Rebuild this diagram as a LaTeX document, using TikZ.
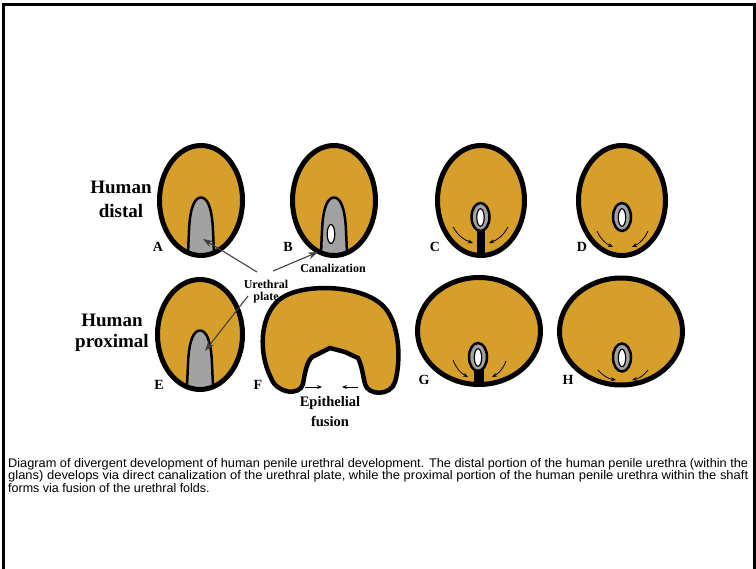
\documentclass[tikz,border=0pt]{standalone}
\usepackage{fontspec}
\setmainfont{Liberation Serif}
\newfontfamily\capfont{Liberation Sans}
\usetikzlibrary{arrows.meta}
\definecolor{tissue}{RGB}{214,158,42}
\definecolor{plategray}{RGB}{162,162,162}
\definecolor{pointergray}{RGB}{64,64,64}
\begin{document}
\begin{tikzpicture}[x=1pt,y=-1pt,
  body/.style={fill=tissue},
  outline/.style={draw=black, line width=5pt},
  plate/.style={fill=plategray, draw=black, line width=2.5pt},
  ring/.style={fill=plategray, draw=black, line width=2.5pt},
  lumen/.style={fill=white, draw=black, line width=1.2pt},
  pointer/.style={draw=pointergray, line width=1.1pt, -{Stealth[length=10pt,width=7pt]}},
  fold/.style={draw=black, line width=0.8pt, -{Stealth[length=5pt,width=4pt]}},
  rowlabel/.style={font=\fontsize{19}{21}\selectfont\bfseries, inner sep=0pt},
  panel/.style={font=\fontsize{14}{16}\selectfont\bfseries, inner sep=0pt},
  note/.style={font=\fontsize{12}{13}\selectfont\bfseries, inner sep=0pt},
  fusionlabel/.style={font=\fontsize{14.5}{16}\selectfont\bfseries, inner sep=0pt},
  caption/.style={font=\capfont\fontsize{12.5}{14}\selectfont, anchor=base west, inner sep=0pt},
  platepic/.pic={\draw[plate] (-13.5,64) -- (-12,30) .. controls (-11,6) and (-6,-3) .. (0,-3) .. controls (6,-3) and (11,6) .. (12,30) -- (13.5,64) -- cycle;},
  ringpic/.pic={\draw[ring] (0,0) ellipse [x radius=9pt, y radius=14pt];
                \draw[lumen] (0,0.5) ellipse [x radius=3.7pt, y radius=8.8pt];}
]
\useasboundingbox (0,0) rectangle (756,569);
\fill[white] (0,0) rectangle (756,569);

% page frame (open at the bottom)
\draw[line width=3pt] (3.5,575) -- (3.5,4.5) -- (754.5,4.5) -- (754.5,575);

% ---------- row 1: distal ----------
\node[rowlabel] (hd1) at (121,187) {Human};
\node[rowlabel] (hd2) at (121,211) {distal};

% A: solid urethral plate
\coordinate (A) at (201,200.5);
\fill[body] (A) ellipse [x radius=41.5pt, y radius=55pt];
\begin{scope}
  \clip (A) ellipse [x radius=41.5pt, y radius=55pt];
  \pic at (A) {platepic};
\end{scope}
\draw[outline] (A) ellipse [x radius=41.5pt, y radius=55pt];
\node[panel] (la) at (158,247) {A};

% B: canalization of the plate
\coordinate (B) at (334,200.5);
\fill[body] (B) ellipse [x radius=41.5pt, y radius=55pt];
\begin{scope}
  \clip (B) ellipse [x radius=41.5pt, y radius=55pt];
  \pic at (B) {platepic};
\end{scope}
\draw[lumen] (331,234) ellipse [x radius=3.8pt, y radius=9.5pt];
\draw[outline] (B) ellipse [x radius=41.5pt, y radius=55pt];
\node[panel] (lb) at (288,247) {B};

% C: urethra with epithelial stalk
\coordinate (C) at (481,200.5);
\fill[body] (C) ellipse [x radius=43.5pt, y radius=55pt];
\fill (477,225) rectangle (484.5,256);
\pic at (480.5,217) {ringpic};
\draw[outline] (C) ellipse [x radius=43.5pt, y radius=55pt];
\node[panel] (lc) at (435,247) {C};
\coordinate (c1s) at (453,227); \coordinate (c1e) at (473,243);
\coordinate (c2s) at (508,227); \coordinate (c2e) at (489,243);
\draw[fold] (c1s) to[bend right=20] (c1e);
\draw[fold] (c2s) to[bend left=20] (c2e);

% D: closed urethra
\coordinate (D) at (622,200.5);
\fill[body] (D) ellipse [x radius=43.5pt, y radius=55pt];
\pic at (622,217) {ringpic};
\draw[outline] (D) ellipse [x radius=43.5pt, y radius=55pt];
\node[panel] (ld) at (582,247) {D};
\coordinate (d1s) at (597,231); \coordinate (d1e) at (613,247);
\coordinate (d2s) at (648,231); \coordinate (d2e) at (632,247);
\draw[fold] (d1s) to[bend right=20] (d1e);
\draw[fold] (d2s) to[bend left=20] (d2e);

% ---------- row 2: proximal ----------
\node[rowlabel] (hp1) at (112,320) {Human};
\node[rowlabel] (hp2) at (112,343) {proximal};

% E: urethral plate
\coordinate (E) at (200,334.5);
\coordinate (Eplate) at (200,333.5);
\fill[body] (E) ellipse [x radius=42.5pt, y radius=55pt];
\begin{scope}
  \clip (E) ellipse [x radius=42.5pt, y radius=55pt];
  \pic at (Eplate) {platepic};
\end{scope}
\draw[outline] (E) ellipse [x radius=42.5pt, y radius=55pt];
\node[panel] (le) at (159,385) {E};

% F: open urethral groove
\draw[body, draw=black, line width=4.5pt]
  (303,384) .. controls (305,372) and (307,362) .. (312,357)
  -- (330,348) -- (345,352) -- (358,358)
  .. controls (362,366) and (363,376) .. (365,384)
  .. controls (368,396) and (391,396) .. (395,382)
  .. controls (401,362) and (400,325) .. (385,308)
  .. controls (365,284) and (300,282) .. (279,300)
  .. controls (260,316) and (258,352) .. (271,378)
  .. controls (277,394) and (300,396) .. (303,384) -- cycle;
\node[panel] (lf) at (258,385) {F};
\coordinate (f1s) at (305,387); \coordinate (f1e) at (322,387);
\coordinate (f2s) at (358,387); \coordinate (f2e) at (342,387);
\draw[fold] (f1s) -- (f1e);
\draw[fold] (f2s) -- (f2e);
\node[fusionlabel] (ep1) at (330,403) {Epithelial};
\node[fusionlabel] (ep2) at (330,421) {fusion};

% G: urethra with seam
\coordinate (G) at (479,331);
\fill[body] (G) ellipse [x radius=61.5pt, y radius=53.5pt];
\fill (474,365) rectangle (484,385);
\pic at (478,357) {ringpic};
\draw[outline] (G) ellipse [x radius=61.5pt, y radius=53.5pt];
\node[panel] (lg) at (424,380) {G};
\coordinate (g1s) at (453,360); \coordinate (g1e) at (468,377);
\coordinate (g2s) at (506,361); \coordinate (g2e) at (492,377);
\draw[fold] (g1s) to[bend right=20] (g1e);
\draw[fold] (g2s) to[bend left=20] (g2e);

% H: closed urethra
\coordinate (H) at (621,331.5);
\fill[body] (H) ellipse [x radius=61.5pt, y radius=53.5pt];
\pic at (622,357.5) {ringpic};
\draw[outline] (H) ellipse [x radius=61.5pt, y radius=53.5pt];
\node[panel] (lh) at (568,380) {H};
\coordinate (h1s) at (598,370); \coordinate (h1e) at (616,380);
\coordinate (h2s) at (648,370); \coordinate (h2e) at (632,380);
\draw[fold] (h1s) to[bend right=20] (h1e);
\draw[fold] (h2s) to[bend left=20] (h2e);

% ---------- pointer labels ----------
\node[note] (canal) at (333,268) {Canalization};
\node[note] (ureth) at (266,284.5) {Urethral};
\node[note] (plt) at (266,298) {plate};
\coordinate (pA) at (257,272); \coordinate (tA) at (203,239);
\coordinate (pE) at (248,296); \coordinate (tE) at (205,351);
\coordinate (pB) at (273,271); \coordinate (tB) at (318,252);
\draw[pointer] (pA) -- (tA);
\draw[pointer] (pE) -- (tE);
\draw[pointer] (pB) -- (tB);

% ---------- caption ----------
\node[caption] (cap1) at (8,467.5) {\resizebox{740pt}{\height}{Diagram of divergent development of human penile urethral development. The distal portion of the human penile urethra (within the}};
\node[caption] (cap2) at (8,479.5) {\resizebox{740pt}{\height}{glans) develops via direct canalization of the urethral plate, while the proximal portion of the human penile urethra within the shaft}};
\node[caption] (cap3) at (8,492.5) {forms via fusion of the urethral folds.};
\end{tikzpicture}
\end{document}
